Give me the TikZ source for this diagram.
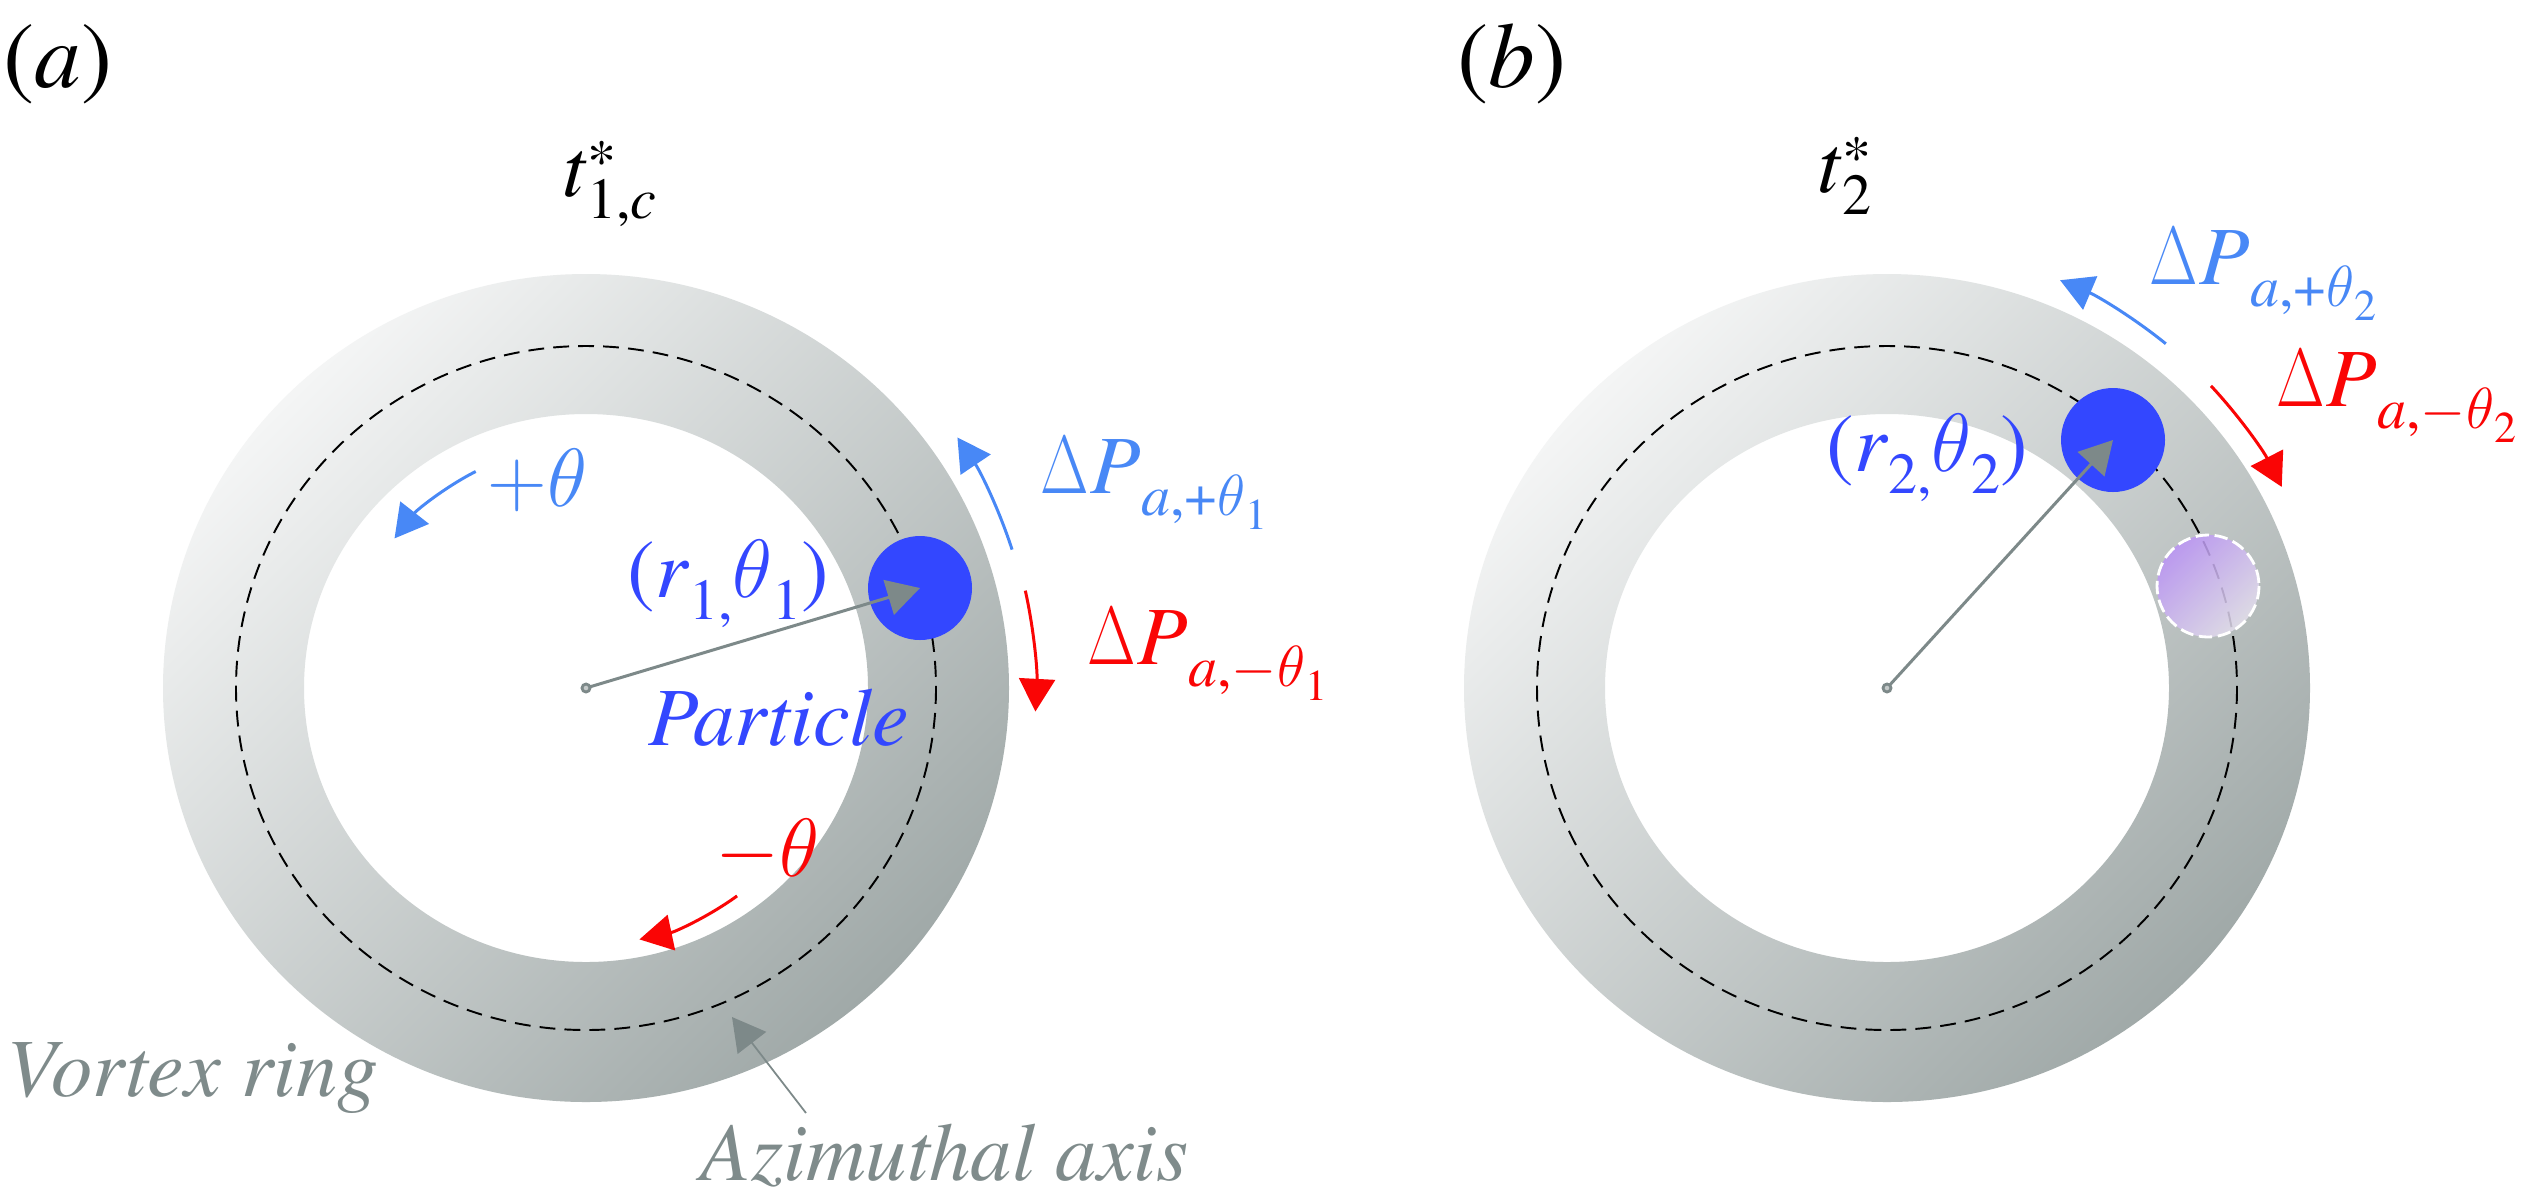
\RequirePackage{fix-cm}
\documentclass[tikz,border=0pt]{standalone}
\usepackage[no-math]{fontspec}
\setmainfont{texgyretermes}[Extension=.otf, UprightFont=*-regular, ItalicFont=*-italic, BoldFont=*-bold, BoldItalicFont=*-bolditalic]
\usetikzlibrary{arrows.meta}
\definecolor{ringL}{RGB}{244,245,245}
\definecolor{ringD}{RGB}{160,169,168}
\definecolor{pblue}{RGB}{51,71,255}
\definecolor{lblue}{RGB}{72,136,246}
\definecolor{myred}{RGB}{250,5,5}
\definecolor{gtext}{RGB}{127,139,139}
\definecolor{garrow}{RGB}{125,137,137}
\definecolor{ghostA}{RGB}{186,146,246}
\definecolor{ghostB}{RGB}{228,224,236}
\newcommand\MainF{\fontsize{23.5pt}{28pt}\selectfont}
\newcommand\LabF{\fontsize{26.5pt}{31pt}\selectfont}
\newcommand\SubF{\fontsize{16.5pt}{20pt}\selectfont}
\newcommand\SSF{\fontsize{12.5pt}{15pt}\selectfont}
\newcommand\lo[1]{\raisebox{-6.3pt}{\SubF #1}}
\newcommand\lolo[1]{\raisebox{-4.2pt}{\SSF #1}}
\newcommand\Dlt{\scalebox{0.76}[1]{$\Delta$}\kern0.5pt}
\begin{document}
\begin{tikzpicture}[x=0.01cm,y=-0.01cm,
  lbl/.style={inner sep=0pt, anchor=base west, font=\MainF},
  tipA/.style={-{Triangle[length=9.3pt,width=10.2pt]}},
  ringfill/.style={even odd rule, top color=ringL, bottom color=ringD, shading angle=45},
  axisline/.style={black, line width=0.55pt, dash pattern=on 4.5pt off 2.6pt},
  curvearrow/.style={line width=0.85pt, tipA},
  radial/.style={garrow, line width=0.85pt, tipA},
  cdot/.style={garrow, line width=0.8pt, fill=garrow!45}]
\fill[white] (0,0) rectangle (2527,1202);
\useasboundingbox (0,0) rectangle (2527,1202);
% centres
\coordinate (ca) at (586,688);
\coordinate (cb) at (1887,688);
\coordinate (pa) at (920,588);
\coordinate (pb) at (2113,440);
\coordinate (gb) at (2208,586);
% rings
\shade[ringfill] (ca) ellipse [x radius=423, y radius=414] (ca) ellipse [x radius=282, y radius=274];
\shade[ringfill] (cb) ellipse [x radius=423, y radius=414] (cb) ellipse [x radius=282, y radius=274];
\draw[axisline] (ca) ellipse [x radius=350, y radius=342];
\draw[axisline] (cb) ellipse [x radius=350, y radius=342];
% ghost particle
\shade[top color=ghostA, bottom color=ghostB, shading angle=45, fill opacity=0.85] (gb) circle [radius=51];
\draw[white, line width=0.8pt, dash pattern=on 3.8pt off 1.6pt] (gb) circle [radius=51];
% particles
\fill[pblue] (pa) circle [radius=52];
\fill[pblue] (pb) circle [radius=52];
% radial arrows
\draw[radial] (ca) -- (pa);
\draw[radial] (cb) -- (pb);
\draw[cdot] (ca) circle [radius=4];
\draw[cdot] (cb) circle [radius=4];
% curved arrows panel a
\draw[curvearrow, lblue] (ca) ++(-18:448) arc[start angle=-18, end angle=-34, radius=448];
\draw[curvearrow, myred] (ca) ++(-12.5:450) arc[start angle=-12.5, end angle=3, radius=450];
\draw[curvearrow, lblue] (ca) ++(-117:243) arc[start angle=-117, end angle=-142, radius=243];
\draw[curvearrow, myred] (ca) ++(54:257) arc[start angle=54, end angle=78, radius=257];
% curved arrows panel b
\draw[curvearrow, lblue] (cb) ++(-51:443) arc[start angle=-51, end angle=-67, radius=443];
\draw[curvearrow, myred] (cb) ++(-43:443) arc[start angle=-43, end angle=-27, radius=443];
% azimuthal axis pointer
\coordinate (azs) at (806,1113);
\coordinate (azt) at (732,1017);
\draw[garrow, line width=0.5pt, tipA] (azs) -- (azt);
% labels panel a
\node[lbl, font=\LabF] (laba) at (3,87) {(\textit{a})};
\node[lbl] (ta) at (562,196) {\textit{t}\rlap{\raisebox{4.3pt}{\SubF *}}\lo{1,\textit{c}}};
\node[lbl, text=pblue] (ra) at (627,597) {(\textit{r}\lo{1,}$\theta$\lo{1})};
\node[lbl, text=pblue] (parta) at (648,745) {\textit{Particle}};
\node[lbl, text=lblue] (plus) at (487,506) {$+\theta$};
\node[lbl, text=myred] (minus) at (715,876) {$-\theta$};
\node[lbl, text=lblue] (dpa) at (1040,493) {\Dlt\textit{P}\lo{\textit{a},+$\theta$\lolo{1}}};
\node[lbl, text=myred] (dma) at (1087,664) {\Dlt\textit{P}\lo{\textit{a},$-\theta$\lolo{1}}};
\node[lbl, text=gtext] (vr) at (6,1096) {\textit{Vortex ring}};
\node[lbl, text=gtext] (az) at (700,1180) {\textit{Azimuthal axis}};
% labels panel b
\node[lbl, font=\LabF] (labb) at (1457,87) {(\textit{b})};
\node[lbl] (tb) at (1817,192) {\textit{t}\rlap{\raisebox{4.3pt}{\SubF *}}\lo{2}};
\node[lbl, text=pblue] (rb) at (1826,471) {(\textit{r}\lo{2,}$\theta$\lo{2})};
\node[lbl, text=lblue] (dpb) at (2149,284) {\Dlt\textit{P}\lo{\textit{a},+$\theta$\lolo{2}}};
\node[lbl, text=myred] (dmb) at (2276,406) {\Dlt\textit{P}\lo{\textit{a},$-\theta$\lolo{2}}};
\end{tikzpicture}
\end{document}
